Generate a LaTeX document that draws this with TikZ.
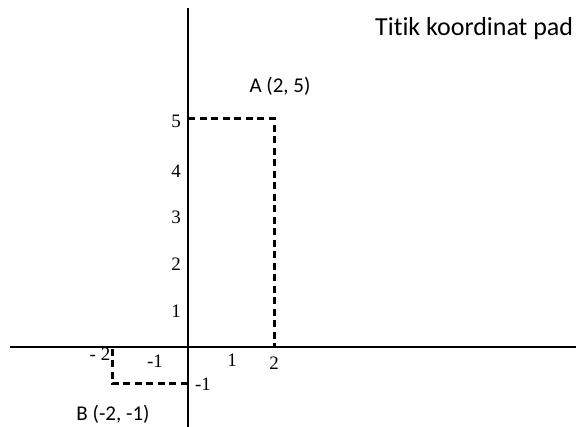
\documentclass[tikz,border=0pt]{standalone}
\usepackage{fontspec}
\setmainfont{Liberation Serif}
\newfontfamily\calib[Ligatures=NoCommon]{Carlito}
\newfontfamily\timesf{Liberation Serif}
\begin{document}
\begin{tikzpicture}[x=1pt,y=-1pt,
  axis/.style={line width=1.3pt,black},
  guideline/.style={line width=3pt,dash pattern=on 7pt off 4.5pt},
  ticklabel/.style={font=\timesf\fontsize{19}{19}\selectfont,inner sep=0pt},
  ptlabel/.style={font=\calib\fontsize{21}{21}\selectfont,inner sep=0pt}]
\useasboundingbox (0,0) rectangle (576,427);
% axes
\coordinate (ytop) at (188,8);
\coordinate (ybot) at (188,427);
\coordinate (xl) at (10,347);
\coordinate (xr) at (576,347);
\draw[axis] (ytop) -- (ybot);
\draw[axis] (xl) -- (xr);
% points
\coordinate (A) at (274,119);
\coordinate (A5) at (188,119);
\coordinate (A2) at (274,347);
\coordinate (B) at (112,384);
\coordinate (B1) at (188,384);
\coordinate (B2) at (112,349);
\draw[guideline] (A5) -- (A) -- (A2);
\draw[guideline] (B2) -- (B) -- (B1);
% y labels
\node[ticklabel] (y5) at (176,121) {5};
\node[ticklabel] (y4) at (176,171) {4};
\node[ticklabel] (y3) at (176,217) {3};
\node[ticklabel] (y2) at (176,264) {2};
\node[ticklabel] (y1) at (176,311) {1};
\node[ticklabel] (ym1) at (203,384) {-1};
% x labels
\node[ticklabel] (xm2) at (100,354) {- 2};
\node[ticklabel] (xm1) at (155,361) {-1};
\node[ticklabel] (x1) at (232,360) {1};
\node[ticklabel] (x2) at (274,363) {2};
% point labels
\node[ptlabel] (Al) at (280,86) {A (2, 5)};
\node[ptlabel] (Bl) at (113,414) {B (-2, -1)};
\node[ptlabel,anchor=base west,font=\calib\fontsize{26}{26}\selectfont] (title) at (375,36) {Titik koordinat pad};
\end{tikzpicture}
\end{document}
